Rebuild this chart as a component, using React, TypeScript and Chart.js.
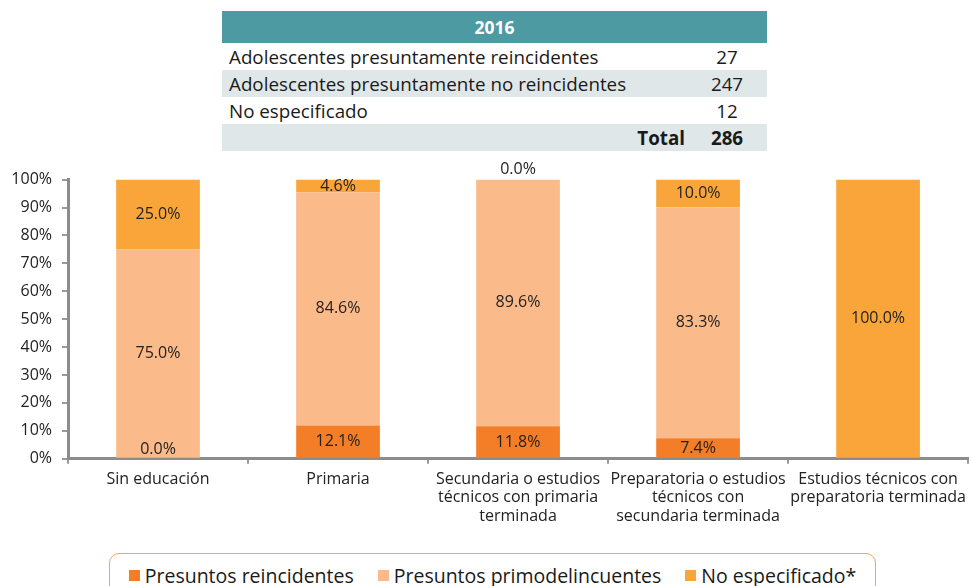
import React, { useEffect, useRef } from "react";
import { Chart, registerables } from "chart.js";

Chart.register(...registerables);

const categories: string[][] = [
  ["Sin educación"],
  ["Primaria"],
  ["Secundaria o estudios", "técnicos con primaria", "terminada"],
  ["Preparatoria o estudios", "técnicos con", "secundaria terminada"],
  ["Estudios técnicos con", "preparatoria terminada"],
];

const seriesNames = ["Presuntos reincidentes", "Presuntos primodelincuentes", "No especificado*"];
const reincidentes: (number | null)[] = [0.0, 12.1, 11.8, 7.4, null];
const primodelincuentes: (number | null)[] = [75.0, 84.6, 89.6, 83.3, null];
const noEspecificado: (number | null)[] = [25.0, 4.6, 0.0, 10.0, 100.0];
const seriesColors = ["#F47D28", "#FBBA89", "#F9A53A"];

const yTicks = [0, 10, 20, 30, 40, 50, 60, 70, 80, 90, 100];

const tableTitle = "2016";
const tableLabels = [
  "Adolescentes presuntamente reincidentes",
  "Adolescentes presuntamente no reincidentes",
  "No especificado",
];
const tableValues = [27, 247, 12];
const tableTotalLabel = "Total";
const tableTotal = 286;

const FONT = "'Open Sans', 'Noto Sans', sans-serif";

const raw = [reincidentes, primodelincuentes, noEspecificado];

// 100% stacked: normalise each category's values to 100
const normalized = raw.map((series) =>
  series.map((v, i) => {
    if (v === null) return null;
    const sum = raw.reduce((acc, s) => acc + (s[i] ?? 0), 0);
    return sum ? (v / sum) * 100 : 0;
  })
);

const labelPlugin = {
  id: "segLabels",
  afterDatasetsDraw(chart: any) {
    const ctx = chart.ctx;
    ctx.save();
    ctx.font = `16px ${FONT}`;
    ctx.fillStyle = "#222";
    ctx.textAlign = "center";
    ctx.textBaseline = "middle";
    const n = chart.data.datasets.length;
    chart.data.datasets.forEach((ds: any, di: number) => {
      const meta = chart.getDatasetMeta(di);
      meta.data.forEach((bar: any, i: number) => {
        const v = raw[di][i];
        if (v === null || v === undefined) return;
        const top = Math.min(bar.y, bar.base);
        const bottom = Math.max(bar.y, bar.base);
        let y = (top + bottom) / 2;
        if (bottom - top < 1) {
          if (di === n - 1) y = top - 10;
          else y = bottom - 9;
        }
        ctx.fillText(v.toFixed(1) + "%", bar.x, y);
      });
    });
    ctx.restore();
  },
};

function ChartCanvas() {
  const ref = useRef<HTMLCanvasElement | null>(null);
  useEffect(() => {
    if (!ref.current) return;
    const chart = new Chart(ref.current, {
      type: "bar",
      data: {
        labels: categories,
        datasets: normalized.map((d, i) => ({
          label: seriesNames[i],
          data: d,
          backgroundColor: seriesColors[i],
          borderWidth: 0,
          categoryPercentage: 1,
          barPercentage: 0.465,
        })),
      },
      options: {
        animation: false,
        responsive: false,
        maintainAspectRatio: false,
        layout: { padding: { top: 19, right: 0, left: 0, bottom: 0 } },
        plugins: {
          legend: { display: false },
          tooltip: { enabled: false },
        },
        scales: {
          x: {
            stacked: true,
            grid: {
              drawOnChartArea: false,
              drawTicks: true,
              tickLength: 5,
              color: "#999",
              lineWidth: 2,
              offset: true,
            },
            border: { color: "#8C8C8C", width: 3 },
            ticks: {
              color: "#222",
              font: { family: FONT, size: 16, lineHeight: 1.13 },
              maxRotation: 0,
              autoSkip: false,
              padding: 7,
            },
          },
          y: {
            stacked: true,
            min: 0,
            max: 100,
            afterBuildTicks: (scale: any) => {
              scale.ticks = yTicks.map((v) => ({ value: v }));
            },
            afterFit: (scale: any) => {
              scale.width = 68;
            },
            grid: {
              drawOnChartArea: false,
              drawTicks: true,
              tickLength: 6,
              color: "#999",
              lineWidth: 2,
            },
            border: { color: "#8C8C8C", width: 3 },
            ticks: {
              color: "#222",
              font: { family: FONT, size: 16 },
              padding: 10,
              callback: (v: any) => v + "%",
            },
          },
        },
      },
      plugins: [labelPlugin],
    });
    return () => chart.destroy();
  }, []);
  return (
    <canvas
      ref={ref}
      width={973}
      height={372}
      style={{ position: "absolute", left: 0, top: 160, width: 973, height: 372 }}
    />
  );
}

export default function App() {
  const rowStyle = (bg: string): React.CSSProperties => ({
    display: "flex",
    height: 27,
    alignItems: "center",
    background: bg,
  });
  const rowBgs = ["#FFFFFF", "#E0E7E9", "#FFFFFF"];
  return (
    <div
      style={{
        position: "absolute",
        left: 0,
        top: 0,
        width: 973,
        height: 586,
        overflow: "hidden",
        background: "#fff",
        fontFamily: FONT,
        color: "#1a1a1a",
      }}
    >
      <div style={{ position: "absolute", left: 222, top: 11, width: 545, fontSize: 18.8 }}>
        <div
          style={{
            height: 32,
            background: "#4E9AA2",
            color: "#fff",
            fontWeight: 700,
            fontSize: 17.5,
            display: "flex",
            alignItems: "center",
            justifyContent: "center",
          }}
        >
          {tableTitle}
        </div>
        {tableLabels.map((lab, i) => (
          <div key={i} style={rowStyle(rowBgs[i])}>
            <div style={{ flex: 1, paddingLeft: 7, whiteSpace: "nowrap" }}>{lab}</div>
            <div style={{ width: 80, textAlign: "center" }}>{tableValues[i]}</div>
          </div>
        ))}
        <div style={rowStyle("#E0E7E9")}>
          <div style={{ flex: 1, textAlign: "right", paddingRight: 2, fontWeight: 700 }}>
            {tableTotalLabel}
          </div>
          <div style={{ width: 80, textAlign: "center", fontWeight: 700 }}>{tableTotal}</div>
        </div>
      </div>
      <ChartCanvas />
      <div
        style={{
          position: "absolute",
          left: 109,
          top: 553,
          width: 767,
          height: 50,
          border: "1px solid #F5A265",
          borderRadius: 10,
          boxSizing: "border-box",
          display: "flex",
          justifyContent: "center",
          paddingTop: 8,
          fontSize: 19.5,
          color: "#1a1a1a",
          whiteSpace: "nowrap",
        }}
      >
        {seriesNames.map((name, i) => (
          <div key={i} style={{ display: "flex", alignItems: "center", marginRight: i < 2 ? 24 : 0, height: 26 }}>
            <span
              style={{
                display: "inline-block",
                width: 11,
                height: 11,
                background: seriesColors[i],
                marginRight: 5,
              }}
            />
            <span>{name}</span>
          </div>
        ))}
      </div>
    </div>
  );
}
